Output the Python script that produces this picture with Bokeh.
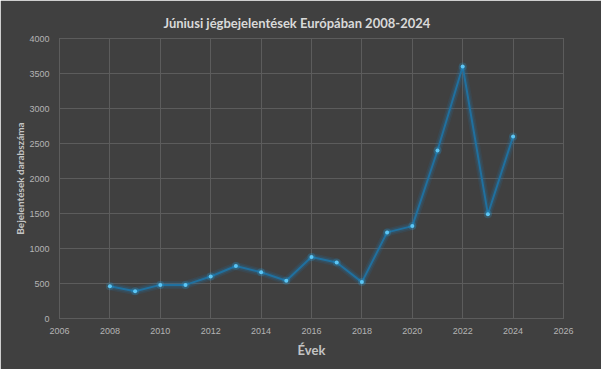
from bokeh.plotting import figure
from bokeh.models import ColumnDataSource, Range1d, FixedTicker, Title
from bokeh.embed import file_html
from bokeh.resources import INLINE

years = [2008, 2009, 2010, 2011, 2012, 2013, 2014, 2015, 2016, 2017,
         2018, 2019, 2020, 2021, 2022, 2023, 2024]
reports = [460, 390, 480, 480, 600, 750, 660, 540, 880, 800,
           520, 1230, 1320, 2400, 3600, 1490, 2600]
x_ticks = [2006, 2008, 2010, 2012, 2014, 2016, 2018, 2020, 2022, 2024, 2026]
y_ticks = [0, 500, 1000, 1500, 2000, 2500, 3000, 3500, 4000]

src = ColumnDataSource(data=dict(x=years, y=reports))

BG = "#404040"
p = figure(width=601, height=369, output_backend="svg", toolbar_location=None,
           x_range=Range1d(2006, 2026), y_range=Range1d(0, 4000),
           background_fill_color=BG, border_fill_color=BG,
           min_border_left=59, min_border_right=38, min_border_top=38, min_border_bottom=51)

p.title.text = "Júniusi jégbejelentések Európában 2008-2024"
p.title.align = "left"
p.title.offset = 104
p.title.standoff = 16
p.title.text_color = "#d9d9d9"
p.title.text_font = "Lato"
p.title.text_font_size = "13px"
p.title.text_font_style = "bold"

p.xaxis.ticker = FixedTicker(ticks=x_ticks)
p.yaxis.ticker = FixedTicker(ticks=y_ticks)
for ax in (p.xaxis, p.yaxis):
    ax.axis_line_color = None
    ax.major_tick_line_color = None
    ax.minor_tick_line_color = None
    ax.major_label_text_color = "#b4b4b4"
    ax.major_label_text_font = "Liberation Sans"
    ax.major_label_text_font_size = "9px"
    ax.axis_label_text_color = "#c4c4c4"
    ax.axis_label_text_font = "Lato"
    ax.axis_label_text_font_style = "bold"
p.xaxis.axis_label = "Évek"
p.xaxis.axis_label_text_font_size = "13px"
p.yaxis.axis_label = "Bejelentések darabszáma"
p.yaxis.axis_label_text_font_size = "10px"
p.xaxis.major_label_standoff = 3
p.yaxis.major_label_standoff = 4
p.yaxis.axis_label_standoff = 0
p.xaxis.axis_label_standoff = 5

# thin outer spacers so the axis blocks sit where the reference has them
p.add_layout(Title(text=" ", text_font_size="1px", standoff=8), "left")
p.add_layout(Title(text=" ", text_font_size="1px", standoff=6), "below")

p.grid.grid_line_color = "#5c5c5c"
p.grid.grid_line_width = 1
p.outline_line_color = "#5c5c5c"

# glow
p.line("x", "y", source=src, line_color="#1a7fbf", line_width=8, line_alpha=0.12)
p.line("x", "y", source=src, line_color="#1a7fbf", line_width=5, line_alpha=0.18)
p.line("x", "y", source=src, line_color="#20709f", line_width=2)
p.scatter("x", "y", source=src, size=8, fill_color="#29a8e8", fill_alpha=0.2, line_color=None)
p.scatter("x", "y", source=src, size=4, fill_color="#5cc6f5", line_color=None)

open("out.html", "w").write(file_html(p, INLINE))
